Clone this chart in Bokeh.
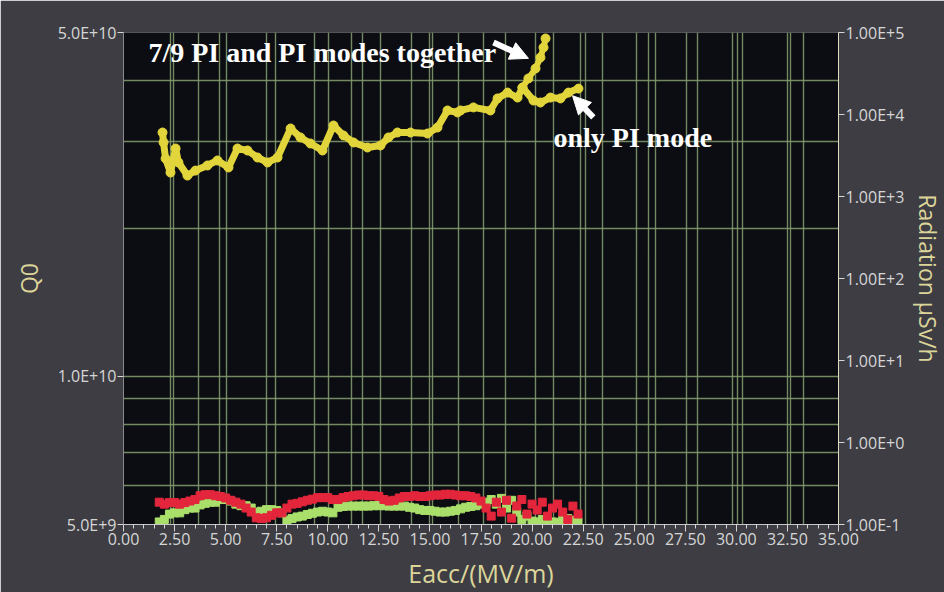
from bokeh.plotting import figure
from bokeh.models import (Range1d, LogAxis, FixedTicker, SingleIntervalTicker,
                          CustomJSTickFormatter, PrintfTickFormatter, Label,
                          Arrow, NormalHead, LogScale)
from bokeh.embed import file_html
from bokeh.resources import INLINE

# ---------------- data ----------------
# Radiation (uSv/h), right axis
rad_x = [1.91, 1.96, 2.06, 2.30, 2.55, 2.69, 3.13, 3.52, 4.11, 4.60, 5.14, 5.58,
         6.07, 6.56, 7.05, 7.54, 8.18, 8.66, 9.15, 9.74, 10.28, 10.77, 11.26,
         11.94, 12.58, 12.97, 13.41, 14.05, 14.88, 15.37, 15.86, 16.35, 16.50,
         17.13, 17.96, 18.31, 18.80, 19.29, 19.53, 20.07, 20.41, 20.90, 21.39,
         21.78, 22.27]
rad_y = [6030, 4560, 2900, 1960, 3850, 2600, 1800, 2070, 2390, 2750, 2260, 3850,
         3640, 2990, 2600, 2990, 6750, 5250, 4430, 3640, 7340, 5550, 4560,
         3960, 4190, 5250, 6030, 6030, 5860, 6940, 11200, 10600, 11200,
         12200, 11200, 15700, 18500, 16100, 21300, 14800, 14000, 16100, 15700,
         18500, 20700]
# 7/9 PI and PI modes together branch
branch_x = [19.53, 19.82, 20.17, 20.41, 20.56, 20.66]
branch_y = [21300, 27500, 36400, 49600, 65600, 84500]

# Q0 series (left axis)
q_x = [1.75, 2.0, 2.25, 2.5, 2.75, 3.0, 3.25, 3.5, 3.75, 4.0, 4.25, 4.5, 4.75,
       5.0, 5.25, 5.5, 5.75, 6.0, 6.25, 6.5, 6.75, 7.0, 7.25, 7.5, 7.75, 8.0,
       8.25, 8.5, 8.75, 9.0, 9.25, 9.5, 9.75, 10.0, 10.25, 10.5, 10.75, 11.0,
       11.25, 11.5, 11.75, 12.0, 12.25, 12.5, 12.75, 13.0, 13.25, 13.5, 13.75,
       14.0, 14.25, 14.5, 14.75, 15.0, 15.25, 15.5, 15.75, 16.0, 16.25, 16.5,
       16.75, 17.0, 17.25, 17.5, 17.75, 18.0, 18.25, 18.5, 18.75, 19.0, 19.25,
       19.5, 19.75, 20.0, 20.25, 20.5, 20.75, 21.0, 21.25, 21.5, 21.75, 22.0,
       22.25]
q_red = [5.55, 5.50, 5.54, 5.54, 5.50, 5.54, 5.58, 5.62,
         5.72, 5.75, 5.75, 5.72, 5.70, 5.66,
         5.60, 5.55, 5.50, 5.40,
         5.30, 5.16, 5.14, 5.16,
         5.22, 5.28, 5.28,
         5.40, 5.50, 5.52, 5.56, 5.60,
         5.63, 5.67, 5.67, 5.67, 5.62, 5.62, 5.67, 5.70,
         5.72, 5.74, 5.74, 5.72, 5.72, 5.70,
         5.62, 5.58, 5.60, 5.66,
         5.70, 5.70, 5.72, 5.70, 5.70, 5.72, 5.74, 5.74,
         5.76, 5.76, 5.74, 5.72, 5.72, 5.70, 5.66, 5.58,
         5.40, 5.20, 5.55, 5.30, 5.60, 5.15, 5.45, 5.62, 5.25, 5.50, 5.35,
         5.55, 5.20, 5.40, 5.50, 5.30, 5.12, 5.45, 5.25]
q_green = [5.06, 5.12,
           5.25, 5.28, 5.28,
           5.36, 5.40, 5.40,
           5.48, 5.52, 5.55, 5.55,
           5.62, 5.62, 5.58,
           5.50, 5.46, 5.46, 5.40,
           5.30, 5.32, 5.36, 5.36, 5.34, 5.28,
           5.10, 5.14, 5.18, 5.20, 5.24,
           5.27, 5.30, 5.32, 5.30, 5.28,
           5.42, 5.44, 5.45, 5.45, 5.45, 5.45, 5.45, 5.46, 5.46, 5.46, 5.45,
           5.45, 5.45, 5.45, 5.42, 5.40,
           5.36, 5.34, 5.34, 5.32, 5.30, 5.30, 5.32, 5.34, 5.38,
           5.42, 5.44, 5.46, 5.50,
           5.55, 5.62, 5.50, 5.65, 5.40, 5.60,
           5.30, 5.12, 5.20, 5.08, 5.06, 5.12, 5.08, 5.06, 5.05, 5.10, 5.14,
           5.10, 5.06]
q_red = [v * 1e9 for v in q_red]
q_green = [v * 1e9 for v in q_green]

left_ticks = [5e9, 1e10, 5e10]
right_ticks = [1e-1, 1e0, 1e1, 1e2, 1e3, 1e4, 1e5]
grid_y = [6e9, 7e9, 8e9, 9e9, 1e10, 2e10, 3e10, 4e10]
grid_x = [2.30, 2.45, 3.67, 4.70, 5.04, 7.0, 7.44, 9.35, 10.03, 11.16, 11.70,
          12.58, 14.1, 14.98, 15.12, 16.4, 17.62, 18.7, 20.17, 21.05, 22.37,
          22.61, 23.45, 25.1, 25.7, 26.04, 27.56, 28.1, 29.8, 30.05, 30.3,
          32.5, 32.65, 33.28]

# ---------------- figure ----------------
TICK_COL = "#d6d6d6"
TITLE_COL = "#dcd59a"
FONT = "Open Sans"

p = figure(frame_width=715, frame_height=492,
           x_range=Range1d(0, 35), y_range=Range1d(5e9, 5e10),
           y_axis_type="log", output_backend="svg", toolbar_location=None,
           min_border_left=123, min_border_right=98, min_border_top=32,
           min_border_bottom=60,
           background_fill_color="#0c0d12", border_fill_color="#3d3d43")
p.outline_line_color = None
p.extra_y_ranges = {"rad": Range1d(0.1, 1e5)}
p.extra_y_scales = {"rad": LogScale()}

# grids
p.xgrid.ticker = FixedTicker(ticks=grid_x)
p.ygrid.ticker = FixedTicker(ticks=grid_y)
for g in (p.xgrid, p.ygrid):
    g.grid_line_color = "#86a070"
    g.grid_line_width = 1.4
    g.grid_line_alpha = 0.85

# x axis
xa = p.xaxis[0]
xa.ticker = SingleIntervalTicker(interval=2.5, num_minor_ticks=5)
xa.formatter = PrintfTickFormatter(format="%.2f")
xa.axis_label = "Eacc/(MV/m)"

# left axis
ya = p.yaxis[0]
ya.ticker = FixedTicker(ticks=left_ticks, minor_ticks=[])
ya.formatter = CustomJSTickFormatter(code="""
const e = Math.floor(Math.log10(tick) + 1e-9);
const m = tick / Math.pow(10, e);
return m.toFixed(1) + "E" + (e >= 0 ? "+" : "-") + Math.abs(e);
""")
ya.axis_label = "Q0"

# right axis
ra = LogAxis(y_range_name="rad", axis_label="Radiation \u03bcSv/h")
ra.ticker = FixedTicker(ticks=right_ticks, minor_ticks=[])
ra.formatter = CustomJSTickFormatter(code="""
const e = Math.round(Math.log10(tick));
const m = tick / Math.pow(10, e);
return m.toFixed(2) + "E" + (e >= 0 ? "+" : "-") + Math.abs(e);
""")
p.add_layout(ra, "right")

for ax in (xa, ya, ra):
    ax.major_label_text_font = FONT
    ax.major_label_text_font_size = "16px"
    ax.major_label_text_color = TICK_COL
    ax.axis_label_text_font = FONT
    ax.axis_label_text_font_style = "normal"
    ax.axis_label_text_color = TITLE_COL
    ax.axis_label_text_font_size = "23px"
    ax.major_tick_line_color = TICK_COL
    ax.minor_tick_line_color = TICK_COL
    ax.axis_line_color = "#c8c8c8"
    ax.major_tick_in = 0
    ax.major_tick_out = 6
    ax.minor_tick_in = 0
    ax.minor_tick_out = 4
    ax.major_label_standoff = 1
xa.major_label_text_font_size = "16px"
xa.axis_label_text_font_size = "25px"
xa.major_tick_out = 7
xa.axis_label_standoff = 8
ya.axis_line_color = "#8a8a8a"
ra.axis_line_color = "#e0dcc0"
ra.axis_label_text_font_size = "23px"
ra.axis_label_standoff = 5
ya.axis_label_standoff = 10

# ---------------- glyphs ----------------
p.scatter(q_x, q_green, marker="square", size=8, color="#a9df6a")
p.scatter(q_x, q_red, marker="square", size=8, color="#e3263c")

YEL = "#e2d53c"
p.line(rad_x, rad_y, y_range_name="rad", line_color=YEL, line_width=7)
p.scatter(rad_x, rad_y, y_range_name="rad", marker="circle", size=9, color=YEL)
p.line(branch_x, branch_y, y_range_name="rad", line_color=YEL, line_width=6)
p.scatter(branch_x, branch_y, y_range_name="rad", marker="circle", size=9, color=YEL)

# ---------------- annotations ----------------
p.add_layout(Label(x=1.22, y=4.55e10, text="7/9 PI and PI modes together",
                   text_font="Liberation Serif", text_font_style="bold",
                   text_font_size="28px", text_color="white",
                   text_baseline="alphabetic"))
p.add_layout(Label(x=21.05, y=3.06e10, text="only PI mode",
                   text_font="Liberation Serif", text_font_style="bold",
                   text_font_size="28px", text_color="white",
                   text_baseline="alphabetic"))
p.add_layout(Arrow(end=NormalHead(size=18, fill_color="white", line_color="white"),
                   x_start=18.11, y_start=4.77e10, x_end=19.82, y_end=4.43e10,
                   line_color="white", line_width=6))
p.add_layout(Arrow(end=NormalHead(size=18, fill_color="white", line_color="white"),
                   x_start=23.0, y_start=3.36e10, x_end=21.98, y_end=3.72e10,
                   line_color="white", line_width=6))

open("out.html", "w").write(file_html(p, INLINE))
